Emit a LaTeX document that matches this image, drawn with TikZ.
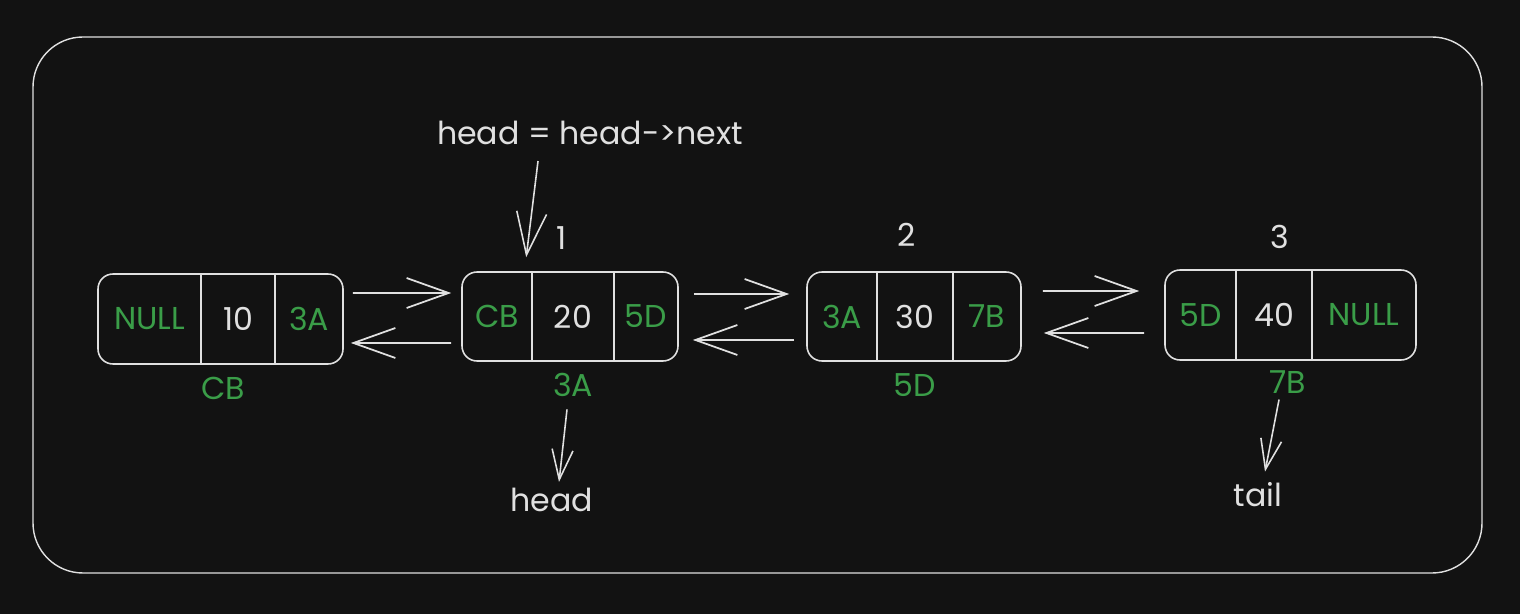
\documentclass[tikz,border=0pt]{standalone}
\usepackage{fontspec}
\setmainfont{Poppins}
\usetikzlibrary{arrows.meta}
\definecolor{bg}{HTML}{121212}
\definecolor{fg}{HTML}{E0E0E0}
\definecolor{addr}{HTML}{3A9D48}
\tikzset{
  every node/.style={text=fg, font=\fontsize{18}{21}\selectfont},
  cell/.style={draw=fg, line width=0.9pt, rounded corners=0.3cm, inner sep=0pt},
  addrtxt/.style={text=addr},
  ptr/.style={draw=fg, line width=1pt, -{Straight Barb[length=0.84cm,width=0.6cm]}},
  lbl/.style={draw=fg, line width=0.9pt, -{Straight Barb[length=0.6cm,width=0.42cm]}},
}

\begin{document}
\begin{tikzpicture}[x=0.02cm, y=-0.02cm]
		\fill[bg] (0,0) rectangle (1520,614);
		\draw[fg, line width=0.8pt, rounded corners=1cm] (33,37) rectangle (1482,573);
		
		\foreach \n/\l/\da/\db/\r/\t/\b/\ta/\tb/\tc/\ad/\ax/\ay in {
			1/98/201/275/343/274/364/NULL/10/3A/CB/223/388,
			2/462/532/614/678/272/361/CB/20/5D/3A/573/385,
			3/807/877/953/1021/272/361/3A/30/7B/5D/915/385,
			4/1165/1236/1312/1416/270/360/5D/40/NULL/7B/1288/382}
		{
			\node[cell, minimum width={(\r-\l)*0.02cm}, minimum height={(\b-\t)*0.02cm}] (b\n) at ({(\l+\r)/2}, {(\t+\b)/2}) {};
			\draw[fg, line width=0.9pt] (\da,\t) -- (\da,\b) (\db,\t) -- (\db,\b);
			\node[addrtxt] at ({(\l+\da)/2}, {(\t+\b)/2}) {\ta};
			\node at ({(\da+\db)/2}, {(\t+\b)/2}) {\tb};
			\node[addrtxt] at ({(\db+\r)/2}, {(\t+\b)/2}) {\tc};
			\node[addrtxt] (a\n) at (\ax, \ay) {\ad};
		}
		
		\node (i1) at (562, 238) {1};
		\node (i2) at (907, 235) {2};
		\node (i3) at (1280, 237) {3};
		
		\draw[ptr] ([xshift=0.18cm, yshift=0.52cm]b1.east) -- ([xshift=-0.2cm, yshift=0.47cm]b2.west);
		\draw[ptr] ([xshift=-0.2cm, yshift=-0.53cm]b2.west) -- ([xshift=0.14cm, yshift=-0.48cm]b1.east);
		\draw[ptr] ([xshift=0.3cm, yshift=0.45cm]b2.east) -- ([xshift=-0.34cm, yshift=0.45cm]b3.west);
		\draw[ptr] ([xshift=-0.24cm, yshift=-0.47cm]b3.west) -- ([xshift=0.28cm, yshift=-0.47cm]b2.east);
		\draw[ptr] ([xshift=0.42cm, yshift=0.51cm]b3.east) -- ([xshift=-0.5cm, yshift=0.48cm]b4.west);
		\draw[ptr] ([xshift=-0.4cm, yshift=-0.36cm]b4.west) -- ([xshift=0.44cm, yshift=-0.33cm]b3.east);
		
		\node (upd) at (590, 133) {head = head->next};
		\node (head) at (552, 500) {head};
		\node (tail) at (1258, 495) {tail};
		
		\draw[lbl, -{Straight Barb[length=0.85cm, width=0.6cm]}] ([xshift=-1.04cm, yshift=-0.2cm]upd.south) -- ([xshift=1.3cm, yshift=0.28cm]b2.north west);
		\draw[lbl] ([xshift=-0.12cm, yshift=-0.13cm]a2.south) -- ([xshift=0.14cm]head.north);
		\draw[lbl] ([xshift=-0.18cm]a4.south) -- ([xshift=0.14cm, yshift=0.1cm]tail.north);
\end{tikzpicture}
\end{document}
